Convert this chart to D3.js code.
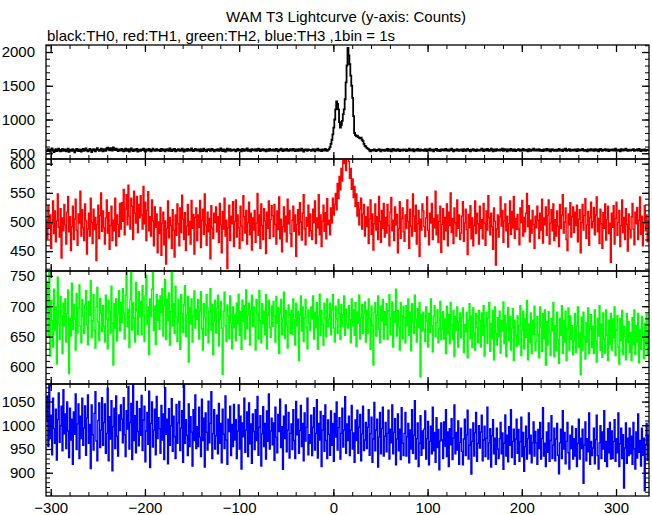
<!DOCTYPE html>
<html><head><meta charset="utf-8">
<script src="https://cdn.jsdelivr.net/npm/d3@7"></script>
<style>body{margin:0;background:#fff}svg{display:block}</style>
</head><body>
<script>
// ---- data (1 bin = 1 s, first bin starts at startTime) ----
const startTime = -305;
const th0 = [
548,532,561,540,525,556,571,538,519,545,560,533,552,567,541,528,550,563,537,546,
558,530,544,569,522,541,553,536,560,547,515,539,566,549,531,557,542,524,555,563,
536,551,572,545,528,540,565,553,519,547,561,538,529,558,574,550,534,546,567,541,
527,560,548,535,571,583,556,542,575,562,539,587,566,548,570,553,532,559,545,538,
564,540,529,553,568,537,546,561,523,550,572,544,531,557,539,548,566,525,552,543,
535,557,548,570,541,526,559,547,538,565,551,529,543,568,555,534,547,561,540,552,
545,531,566,553,539,558,527,549,562,544,537,571,550,533,556,542,563,528,551,539,
560,547,534,552,569,541,525,557,546,535,563,550,538,554,572,540,531,549,566,543,
538,556,544,529,561,548,533,570,551,540,527,559,546,562,537,553,565,542,530,548,
555,541,562,536,550,573,545,532,558,547,524,553,568,539,546,560,534,551,543,557,
542,528,551,566,539,555,544,530,563,549,537,558,545,571,536,552,541,527,560,546,
553,540,561,534,548,570,543,531,556,545,562,538,549,527,559,547,535,564,550,541,
546,558,537,551,565,540,529,554,543,568,547,533,557,545,538,563,551,536,548,560,
539,552,566,544,531,556,548,535,561,547,540,569,553,526,549,558,542,535,556,547,
551,537,548,562,543,530,557,546,570,538,552,545,533,559,548,541,566,550,537,549,
560,590,640,700,780,880,1000,1150,1270,1230,1150,960,880,920,980,1080,1150,1300,1550,1800,
2060,1950,1820,1650,1500,1320,1050,800,770,750,760,740,730,720,730,700,680,640,610,600,
580,570,560,540,530,550,545,538,556,542,533,551,547,560,539,528,553,545,549,537,
552,541,563,535,548,557,529,545,566,540,553,536,549,562,544,531,555,547,538,559,
544,558,533,549,540,567,552,538,546,561,530,554,543,539,565,548,535,557,546,541,
550,536,561,547,532,556,544,570,539,553,541,528,559,548,563,537,551,544,531,557,
546,559,538,552,565,540,549,534,557,545,568,543,530,554,547,539,562,550,536,548,
557,543,531,560,548,537,554,566,541,550,527,555,544,562,538,549,533,558,545,540,
539,553,567,545,532,558,547,540,563,551,535,546,569,542,529,556,548,537,560,544,
551,538,556,544,570,535,549,561,543,530,557,547,540,564,552,536,545,558,533,549,
543,560,547,534,555,541,566,550,538,552,545,529,561,548,537,554,543,567,540,551,
556,539,548,562,536,551,544,533,559,547,541,565,550,538,556,529,546,560,543,537,
548,554,535,549,563,540,552,545,531,558,546,569,537,553,542,560,534,549,555,541,
540,557,546,532,561,550,538,555,543,566,548,535,551,544,530,559,547,539,562,545,
553,537,562,548,541,556,529,550,565,542,536,553,547,560,538,549,557,533,546,552,
545,559,540,551,567,535,548,554,541,530,562,547,538,556,543,569,550,536,553,544,
538,552,547,560,534,549,543,557,539,564,546,532,555,548,541,558,536,550,545,553
];
const th1 = [
503,471,528,489,512,455,497,536,480,519,466,502,548,491,474,523,438,507,485,530,
495,462,517,544,483,509,451,492,527,470,505,539,486,460,514,498,553,476,521,490,
468,531,502,445,488,515,476,541,499,463,522,487,508,434,496,529,472,511,550,484,
519,490,462,507,538,481,516,453,494,527,468,503,485,541,459,512,496,475,532,488,
533,501,556,478,522,547,495,563,510,488,541,527,470,553,515,498,544,482,530,507,
545,512,488,561,497,534,468,520,552,485,509,476,538,502,459,526,491,514,447,500,
480,525,443,498,517,461,502,428,489,536,473,508,494,455,521,486,440,512,477,531,
497,459,524,482,546,505,470,516,451,493,530,478,501,462,537,489,513,445,508,524,
468,512,491,537,456,503,522,479,548,495,460,517,483,506,437,528,490,472,515,499,
526,483,509,465,532,495,447,518,488,541,476,503,420,490,529,468,510,497,535,458,
501,538,474,512,490,455,527,493,468,545,509,481,520,462,499,534,478,515,452,507,
486,520,465,498,549,477,512,455,531,494,470,523,502,446,517,489,536,472,504,528,
511,475,530,496,462,519,487,543,471,505,449,492,526,483,510,466,539,497,520,480,
458,503,527,484,512,441,496,521,478,533,500,469,515,547,488,461,508,493,529,476,
514,485,470,522,499,536,463,507,490,547,478,512,458,501,529,484,516,471,540,495,
503,478,524,498,541,512,530,549,521,566,540,578,555,592,570,612,600,625,588,618,
630,604,575,592,556,574,542,561,527,548,510,533,495,522,541,488,514,530,476,509,
492,526,463,505,538,479,514,452,497,531,486,509,470,544,501,465,520,489,532,474,
508,481,530,494,459,517,542,485,503,468,526,495,513,447,489,535,472,506,524,483,
467,512,489,538,501,455,522,493,476,548,510,484,529,462,497,520,441,505,486,531,
519,492,475,507,543,486,461,515,498,532,470,506,490,553,478,512,465,501,527,448,
496,523,470,508,485,531,459,517,494,550,482,506,463,524,499,476,538,489,512,470,
481,510,535,467,498,522,487,444,513,490,528,471,507,459,494,536,480,515,497,462,
527,489,504,471,532,498,460,519,486,545,507,478,515,492,453,524,501,426,488,512,
474,509,543,493,520,465,502,531,485,510,457,497,536,479,518,490,544,472,506,487,
513,488,461,524,499,537,476,508,483,515,549,492,528,466,503,481,520,496,455,510,
490,527,503,472,515,486,539,464,507,495,526,477,511,538,462,498,521,485,531,468,
504,476,519,493,458,530,489,512,547,481,500,524,470,451,514,495,533,474,509,526,
482,517,494,529,466,505,521,447,499,530,486,511,540,472,495,518,460,507,534,490,
501,525,478,512,543,483,506,463,522,497,455,516,489,531,469,504,527,480,498,431,
515,491,528,462,506,534,477,499,520,458,494,538,482,508,470,523,496,450,514,487,
473,509,532,488,461,517,497,525,470,503,543,479,510,459,498,528,485,512,466,502
];
const th2 = [
694,741,652,772,618,709,676,633,728,661,699,605,748,671,645,716,683,622,705,668,
712,641,688,727,589,680,651,738,662,703,679,628,721,656,697,735,667,640,711,684,
655,702,726,670,637,708,685,742,648,676,719,660,631,699,731,674,644,713,689,658,
701,667,641,718,679,630,710,692,655,733,672,603,704,664,712,643,687,726,659,706,
673,729,688,646,718,758,666,695,632,711,768,661,706,680,641,739,693,654,724,682,
708,653,734,685,642,717,751,670,699,621,712,683,728,765,660,700,637,719,677,710,
662,717,690,729,651,701,744,645,712,676,722,636,691,767,668,704,655,733,682,642,
711,674,629,719,688,657,703,734,650,686,716,608,698,671,712,641,684,725,664,695,
678,711,646,692,724,663,628,704,682,652,719,697,640,691,729,661,703,620,676,710,
656,696,718,635,679,708,664,588,692,723,668,642,702,684,647,717,673,630,699,665,
686,643,705,671,720,652,692,629,710,675,701,646,727,663,686,705,636,693,718,667,
699,668,628,711,687,646,726,676,640,704,671,692,654,719,630,686,710,665,649,700,
667,708,684,641,716,672,698,622,689,711,653,680,723,647,693,669,631,702,686,655,
693,654,712,678,636,705,668,692,611,686,717,659,699,642,681,711,665,630,694,672,
660,699,679,717,646,690,665,706,629,684,720,652,693,670,636,705,681,650,712,666,
679,705,653,694,719,664,641,700,679,655,711,688,645,703,667,686,717,652,695,671,
664,701,678,640,712,668,694,652,706,634,690,672,718,646,681,703,655,687,707,641,
693,655,712,679,629,700,668,603,690,706,651,686,717,662,640,700,676,711,646,691,
669,704,645,693,719,654,681,707,633,691,673,728,651,693,666,628,706,684,646,700,
681,640,701,668,712,652,690,627,704,673,655,718,679,641,696,665,706,584,687,659,
690,662,642,699,676,633,688,657,712,668,625,684,701,650,673,694,640,663,708,645,
662,691,646,679,622,700,655,686,638,706,669,645,693,617,683,660,699,633,674,689,
648,681,697,624,670,658,690,615,677,704,647,684,632,697,656,628,688,665,640,693,
676,633,689,652,701,618,668,690,639,681,706,626,672,647,693,612,699,655,636,681,
650,692,623,676,659,707,638,685,617,671,698,644,683,628,664,696,611,677,652,634,
684,637,668,701,619,661,692,630,680,649,709,612,671,640,689,622,677,654,700,627,
642,683,653,615,699,666,626,688,647,694,603,675,636,691,657,619,680,659,706,617,
668,627,690,645,606,680,652,701,622,676,641,692,611,663,697,628,684,645,668,620,
644,688,624,667,699,633,656,587,682,628,690,650,613,673,641,697,622,664,686,632,
667,622,694,643,608,680,651,701,627,671,616,689,646,623,694,652,611,677,637,688,
628,679,648,699,619,661,685,633,605,680,643,693,621,667,650,612,688,640,675,624,
657,611,681,637,694,621,668,641,688,607,662,629,683,648,614,672,636,687,620,656
];
const th3 = [
1008,1062,955,1089,972,1021,938,1057,993,962,1034,927,1012,1068,964,999,1040,946,1075,982,
1024,951,1049,988,932,1036,969,1013,918,1028,981,1066,949,1003,1045,930,1019,972,1057,958,
994,1041,937,1015,1064,962,1002,909,1043,980,948,1025,1071,967,925,1010,1047,953,990,1058,
958,1006,1045,941,983,1078,925,1018,971,1052,904,997,1036,951,1062,977,935,1022,989,1043,
1013,963,1058,980,934,1031,992,1082,950,1006,1046,928,1086,968,1020,942,1050,987,957,1035,
979,1063,947,1011,1040,923,988,1027,960,1072,911,1004,1049,954,990,1034,938,1061,972,1016,
993,941,1042,969,1024,928,1079,981,1013,919,1035,958,999,1056,945,1019,976,930,1044,962,
1005,1050,947,994,1031,922,1088,962,1012,979,936,1045,955,1018,986,914,1033,968,1064,951,
997,955,1038,975,934,1055,968,1015,912,1026,985,948,1051,963,1004,1071,930,982,1033,950,
978,1021,940,1046,962,1004,921,1034,981,951,1062,969,918,1013,987,1040,936,1002,955,1044,
969,1012,930,988,1043,950,1019,908,1005,976,1057,943,990,1028,934,1047,961,1003,920,1024,
987,949,1033,968,1061,937,996,1020,914,982,1039,955,1004,929,1030,966,1066,950,988,1015,
959,1005,926,1038,975,942,1023,987,1055,953,997,907,1019,972,1043,944,990,1027,931,983,
1003,949,1033,968,930,1050,980,1013,941,989,1042,955,1004,925,1026,967,996,1057,938,980,
962,1021,936,996,1037,948,983,1054,931,1004,969,1029,913,990,1020,945,1043,968,930,1011,
981,937,1030,958,1004,924,1025,975,1049,948,995,1016,929,983,1036,954,990,1060,941,1003,
968,1019,936,990,1042,950,984,922,1011,968,1032,941,996,1023,925,982,1040,947,969,1006,
951,996,1033,937,982,1017,922,971,1048,946,990,1013,912,975,1027,940,993,1038,935,977,
1006,944,983,1032,929,992,963,1043,940,985,1014,917,971,1024,946,992,928,1037,962,936,
983,1027,935,976,1004,921,990,950,1033,941,979,1052,929,972,1005,913,962,1020,937,988,
951,992,1030,929,972,1008,917,966,998,940,1038,946,985,922,1016,953,991,906,967,1005,
969,930,1007,956,1033,934,986,913,993,959,1014,928,973,1043,940,985,948,1009,918,964,
994,945,917,971,1013,936,980,1032,929,958,992,897,966,1005,935,984,1027,924,962,999,
952,986,1021,925,969,998,934,973,1038,929,963,993,912,978,1012,940,973,918,994,950,
930,972,1006,940,984,907,962,1022,935,979,923,997,958,1033,932,966,992,918,971,1013,
941,991,924,965,1017,934,985,903,955,998,929,972,1026,940,979,921,963,1007,935,987,
963,918,991,951,1006,929,972,1037,935,962,913,986,943,1005,924,968,1020,930,958,994,
925,971,1004,937,898,963,992,930,1031,950,985,919,966,1006,942,908,979,951,998,929,
972,935,993,913,962,1013,929,973,951,992,878,958,1007,925,972,944,1026,918,966,936,
952,994,919,970,1021,936,908,963,999,930,986,950,1031,924,966,913,993,942,1006,929,
988,930,966,1012,924,972,942,1026,913,961,994,930,980,868,952,1005,920,973,936,994,
940,977,918,1006,950,908,986,931,1024,943,968,914,994,937,973,862,959,1004,926,979
];
const seriesValues = [th0, th1, th2, th3];
const seriesColors = ["#000000", "#ff0000", "#00ff00", "#0000ff"];
const yDomains = [[415, 2104], [416, 608], [572, 758], [851, 1087]];
const yTickValues = [[500, 1000, 1500, 2000], [450, 500, 550, 600], [600, 650, 700, 750], [900, 950, 1000, 1050]];
const yMinorStep = [100, 10, 10, 10];
const xDomain = [-305, 335];
const xTickValues = [-300, -200, -100, 0, 100, 200, 300];
const xMinorStep = 20;
const titleText = "WAM T3 Lightcurve (y-axis: Counts)";
const subtitleText = "black:TH0, red:TH1, green:TH2, blue:TH3 ,1bin = 1s";

// ---- layout ----
const W = 652, H = 515;
const left = 46, right = 649;
const panelEdges = [45, 159, 271, 384, 496];
const font = "'Liberation Sans', Arial, Helvetica, sans-serif";
const blank = () => "";

const svg = d3.select("body").append("svg").attr("width", W).attr("height", H)
  .style("font-family", font);
svg.append("rect").attr("width", W).attr("height", H).attr("fill", "#fff");

svg.append("text").attr("x", 346).attr("y", 22).attr("text-anchor", "middle")
  .attr("font-size", 15).text(titleText);
svg.append("text").attr("x", 47).attr("y", 41)
  .attr("font-size", 15).text(subtitleText);

const x = d3.scaleLinear().domain(xDomain).range([left, right]);
const xMinor = d3.range(-300, 336, xMinorStep);

function strip(sel) { sel.select(".domain").remove(); return sel; }

seriesValues.forEach((vals, p) => {
  const top = panelEdges[p], bot = panelEdges[p + 1];
  const y = d3.scaleLinear().domain(yDomains[p]).range([bot, top]);
  const g = svg.append("g");

  g.append("clipPath").attr("id", "clip" + p)
    .append("rect").attr("x", left).attr("y", top).attr("width", right - left).attr("height", bot - top);

  const line = d3.line()
    .x((d, i) => x(startTime + i + 0.5))
    .y(d => y(d))
    .curve(d3.curveStep);
  g.append("path").datum(vals)
    .attr("clip-path", `url(#clip${p})`)
    .attr("fill", "none")
    .attr("stroke", seriesColors[p])
    .attr("stroke-width", p === 0 ? 1.8 : 1.4)
    .attr("d", line);

  const yMinor = d3.range(Math.ceil(yDomains[p][0] / yMinorStep[p]) * yMinorStep[p], yDomains[p][1], yMinorStep[p]);

  // left axis: major with labels, minor without
  const la = strip(g.append("g").attr("transform", `translate(${left},0)`)
    .call(d3.axisLeft(y).tickValues(yTickValues[p]).tickSize(-7).tickPadding(11).tickFormat(d3.format("d"))));
  la.selectAll("text").attr("font-size", 15).attr("font-family", font).attr("fill", "#000");
  la.selectAll("line").attr("stroke-width", 1.3);
  strip(g.append("g").attr("transform", `translate(${left},0)`)
    .call(d3.axisLeft(y).tickValues(yMinor).tickSize(-4).tickFormat(blank)));

  // right axis
  strip(g.append("g").attr("transform", `translate(${right},0)`)
    .call(d3.axisRight(y).tickValues(yTickValues[p]).tickSize(-7).tickFormat(blank)))
    .selectAll("line").attr("stroke-width", 1.3);
  strip(g.append("g").attr("transform", `translate(${right},0)`)
    .call(d3.axisRight(y).tickValues(yMinor).tickSize(-4).tickFormat(blank)));

  // top x ticks
  strip(g.append("g").attr("transform", `translate(0,${top})`)
    .call(d3.axisTop(x).tickValues(xTickValues).tickSize(-7).tickFormat(blank)))
    .selectAll("line").attr("stroke-width", 1.3);
  strip(g.append("g").attr("transform", `translate(0,${top})`)
    .call(d3.axisTop(x).tickValues(xMinor).tickSize(-4).tickFormat(blank)));

  // bottom x ticks (labels only on last panel)
  const fmt = p === 3 ? (d => (d < 0 ? "\u2212" + Math.abs(d) : String(d))) : blank;
  const ba = strip(g.append("g").attr("transform", `translate(0,${bot})`)
    .call(d3.axisBottom(x).tickValues(xTickValues).tickSize(-7).tickPadding(6).tickFormat(fmt)));
  ba.selectAll("line").attr("stroke-width", 1.3);
  ba.selectAll("text").attr("font-size", 15).attr("font-family", font).attr("fill", "#000");
  strip(g.append("g").attr("transform", `translate(0,${bot})`)
    .call(d3.axisBottom(x).tickValues(xMinor).tickSize(-4).tickFormat(blank)));

  // frame
  g.append("rect").attr("x", left).attr("y", top).attr("width", right - left).attr("height", bot - top)
    .attr("fill", "none").attr("stroke", "#000").attr("stroke-width", 1.3);
});
</script>
</body></html>
